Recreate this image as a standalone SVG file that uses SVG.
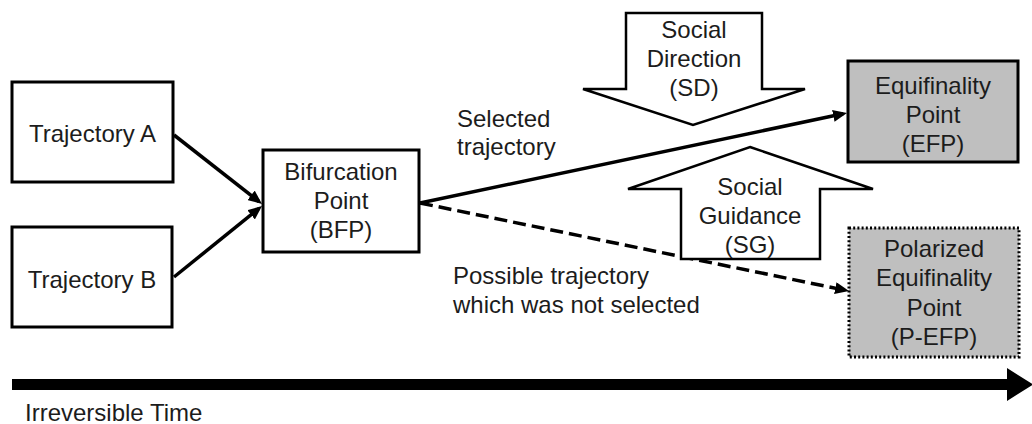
<svg xmlns="http://www.w3.org/2000/svg" width="1032" height="424" viewBox="0 0 1032 424">
  <defs>
    <style>
      .box { fill: #ffffff; stroke: #000000; stroke-width: 3; }
      .point { fill: #bfbfbf; stroke: #000000; stroke-width: 3; }
      .dotted { fill: #bfbfbf; stroke: #000000; stroke-width: 3; stroke-dasharray: 2 2.2; }
      .force { fill: #ffffff; stroke: #000000; stroke-width: 2.5; stroke-linejoin: miter; }
      .lbl { font-family: "Liberation Sans", Arial, sans-serif; font-size: 24px; fill: #1c1c1c; }
      .mid { text-anchor: middle; }
      .edge { fill: none; stroke: #000000; stroke-width: 3.5; }
      .dash { stroke-dasharray: 13 6; }
    </style>
    <marker id="head" viewBox="0 0 14 12" markerUnits="userSpaceOnUse" markerWidth="14" markerHeight="12" refX="10" refY="6" orient="auto">
      <path d="M0,0 L14,6 L0,12 Z" fill="#000000"/>
    </marker>
  </defs>

  <!-- connectors -->
  <g id="connectors">
    <line class="edge" x1="174" y1="135" x2="258.9" y2="201.5" marker-end="url(#head)"/>
    <line class="edge" x1="174" y1="277" x2="258.9" y2="208.5" marker-end="url(#head)"/>
    <line class="edge" x1="420" y1="203" x2="843.1" y2="113.8" marker-end="url(#head)"/>
    <line class="edge dash" x1="420" y1="203" x2="845.1" y2="290.2" marker-end="url(#head)"/>
  </g>

  <!-- social forces -->
  <g id="social-direction">
    <polygon class="force" points="626,13 762,13 762,89 805,89 693,125 583,89 626,89"/>
    <text class="lbl mid" x="694" y="38">Social</text>
    <text class="lbl mid" x="694" y="67">Direction</text>
    <text class="lbl mid" x="694" y="96">(SD)</text>
  </g>

  <g id="social-guidance">
    <polygon class="force" points="750,147 873,189 820,189 820,259 681,259 681,189 628,189"/>
    <text class="lbl mid" x="750" y="195">Social</text>
    <text class="lbl mid" x="750" y="224">Guidance</text>
    <text class="lbl mid" x="750" y="253">(SG)</text>
  </g>

  <!-- nodes -->
  <g id="trajectory-a">
    <rect class="box" x="12" y="82" width="161" height="100"/>
    <text class="lbl mid" x="92.5" y="142">Trajectory A</text>
  </g>

  <g id="trajectory-b">
    <rect class="box" x="12" y="227" width="160" height="100"/>
    <text class="lbl mid" x="92" y="288">Trajectory B</text>
  </g>

  <g id="bfp">
    <rect class="box" x="263" y="150" width="156" height="102"/>
    <text class="lbl mid" x="341" y="180">Bifurcation</text>
    <text class="lbl mid" x="341" y="209">Point</text>
    <text class="lbl mid" x="341" y="238">(BFP)</text>
  </g>

  <g id="efp">
    <rect class="point" x="848" y="61" width="170" height="101"/>
    <text class="lbl mid" x="933" y="94">Equifinality</text>
    <text class="lbl mid" x="933" y="123">Point</text>
    <text class="lbl mid" x="933" y="152">(EFP)</text>
  </g>

  <g id="p-efp">
    <rect class="dotted" x="849" y="228" width="170" height="129"/>
    <text class="lbl mid" x="934" y="257">Polarized</text>
    <text class="lbl mid" x="934" y="286">Equifinality</text>
    <text class="lbl mid" x="934" y="316">Point</text>
    <text class="lbl mid" x="934" y="345">(P-EFP)</text>
  </g>

  <!-- edge labels -->
  <g id="edge-labels">
    <text class="lbl" x="457" y="127">Selected</text>
    <text class="lbl" x="457" y="155">trajectory</text>
    <text class="lbl" x="453" y="284">Possible trajectory</text>
    <text class="lbl" x="453" y="313">which was not selected</text>
  </g>

  <!-- time axis -->
  <g id="time-axis">
    <polygon points="12,379 1007,379 1007,368 1033,384.5 1007,401 1007,390 12,390" fill="#000000"/>
    <text class="lbl" x="25" y="421">Irreversible Time</text>
  </g>
</svg>
